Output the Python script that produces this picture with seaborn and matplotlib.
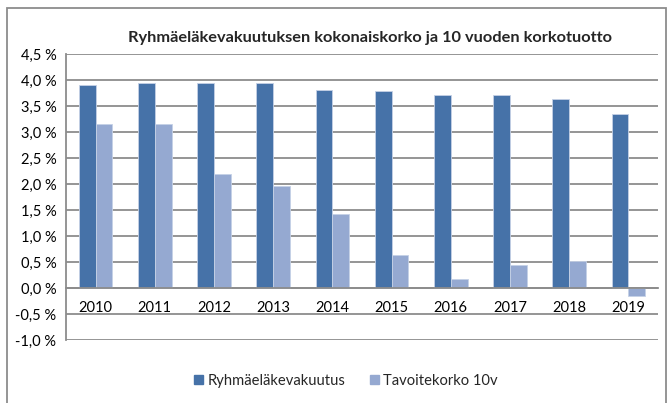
import pandas as pd
import numpy as np
import matplotlib.pyplot as plt
from matplotlib.patches import Rectangle
from matplotlib.ticker import FuncFormatter
import seaborn as sns

years = ["2010", "2011", "2012", "2013", "2014", "2015", "2016", "2017", "2018", "2019"]
ryhma = [3.90, 3.94, 3.94, 3.94, 3.80, 3.79, 3.71, 3.71, 3.63, 3.35]
tavoite = [3.15, 3.15, 2.20, 1.96, 1.43, 0.63, 0.17, 0.44, 0.51, -0.15]
series = ["Ryhmäeläkevakuutus", "Tavoitekorko 10v"]

df = pd.DataFrame({
    "vuosi": years * 2,
    "arvo": ryhma + tavoite,
    "sarja": [series[0]] * len(years) + [series[1]] * len(years),
})

sns.set_style("white")
plt.rcParams['font.family'] = ['Lato', 'DejaVu Sans']

fig = plt.figure(figsize=(6.67, 4.03), dpi=100)
ax = fig.add_axes([66/667, 1-340/403, 592/667, 286/403])

grid_c = "#8c8c8c"
colors = ["#4672a8", "#95a9d1"]
ax.set_axisbelow(True)
ax.yaxis.grid(True, color=grid_c, linewidth=1.3)

sns.barplot(data=df, x="vuosi", y="arvo", hue="sarja",
            palette=colors, saturation=1, width=0.57, gap=0,
            edgecolor="#c5d1e6", linewidth=0.6, ax=ax)

ax.set_ylim(-1.0, 4.5)
ax.set_xlim(-0.5, 9.5)
ax.set_yticks(np.arange(-1.0, 4.51, 0.5))
ax.yaxis.set_major_formatter(FuncFormatter(lambda v, p: f"{v:.1f} %".replace(".", ",")))
ax.set_xlabel("")
ax.set_ylabel("")

for s in ["top", "right"]:
    ax.spines[s].set_visible(False)
ax.spines["left"].set_color(grid_c)
ax.spines["left"].set_linewidth(1.3)
ax.spines["bottom"].set_position(("data", 0))
ax.spines["bottom"].set_color(grid_c)
ax.spines["bottom"].set_linewidth(1.3)

ax.set_xticks(np.arange(-0.5, 10, 1), minor=True)
ax.tick_params(axis="x", which="major", length=0, pad=9, labelsize=10.5)
ax.tick_params(axis="x", which="minor", length=5, width=1.3, color=grid_c, direction="out")
ax.tick_params(axis="y", length=4, width=1.3, color=grid_c, labelsize=10.5, pad=3)
for lab in ax.get_xticklabels() + ax.get_yticklabels():
    lab.set_color("#000000")

fig.text(370/667, 1-38/403, "Ryhmäeläkevakuutuksen kokonaiskorko ja 10 vuoden korkotuotto",
         ha="center", va="center", fontsize=11.8, fontweight="bold")

ax.legend_.remove()
handles = [Rectangle((0, 0), 1, 1, color=c) for c in colors]
fig.legend(handles, series, loc="center", bbox_to_anchor=(346/667, 1-381/403), ncol=2,
           frameon=False, fontsize=10.6, handlelength=0.6, handleheight=0.6,
           handletextpad=0.3, columnspacing=1.7)

fig.patches.append(Rectangle((7/667, -0.02), 659/667, 1.02-8/403, transform=fig.transFigure,
                             fill=False, edgecolor="#8c8c8c", linewidth=1.3))

fig.savefig("out.png", dpi=100)
